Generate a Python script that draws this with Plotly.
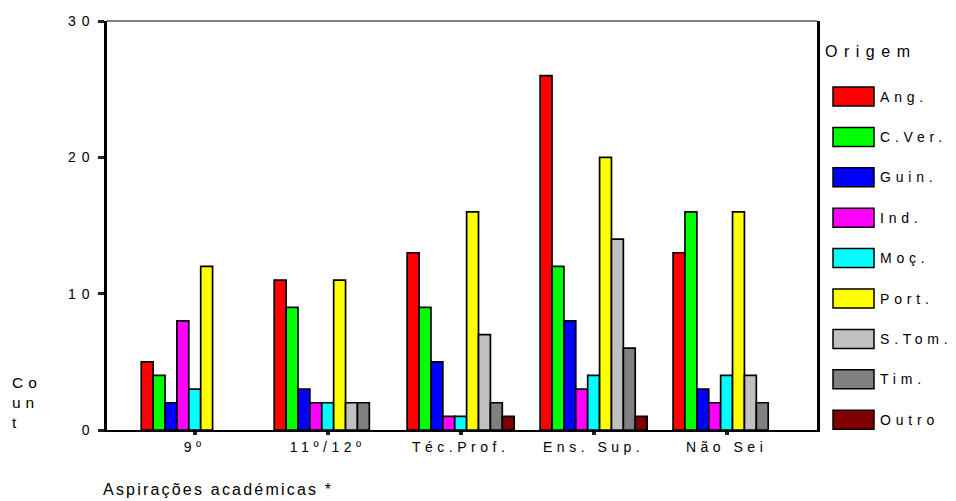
import json
import plotly.graph_objects as go

categories = ["9º", "11º/12º", "Téc.Prof.", "Ens. Sup.", "Não Sei"]
series_names = ["Ang.", "C.Ver.", "Guin.", "Ind.", "Moç.", "Port.", "S.Tom.", "Tim.", "Outro"]
series_colors = ["#FF0000", "#00FF00", "#0000FF", "#FF00FF", "#00FFFF",
                 "#FFFF00", "#C0C0C0", "#808080", "#7F0000"]
# counts per series, ordered as categories
ang = [5, 11, 13, 26, 13]
cver = [4, 9, 9, 12, 16]
guin = [2, 3, 5, 8, 3]
ind = [8, 2, 1, 3, 2]
moc = [3, 2, 1, 4, 4]
port = [12, 11, 16, 20, 16]
stom = [0, 2, 7, 14, 4]
tim = [0, 2, 2, 6, 2]
outro = [0, 0, 1, 1, 0]
series_values = [ang, cver, guin, ind, moc, port, stom, tim, outro]
y_ticks = [0, 10, 20, 30]

FONT = "Liberation Sans, Arial, sans-serif"

# plot-area pixel geometry (for legend placement in paper coords)
L, R, T, B = 107, 817, 21, 430
W, H = R - L, B - T


def px(x):
    return (x - L) / W


def py(y):
    return (B - y) / H


fig = go.Figure()
xpos = list(range(len(categories)))
for name, color, vals in zip(series_names, series_colors, series_values):
    fig.add_trace(go.Bar(
        x=xpos, y=[v if v else None for v in vals], name=name,
        marker=dict(color=color, line=dict(color="black", width=1.7)),
        showlegend=False, hoverinfo="skip",
    ))

shapes = []
annotations = []
ann_spacing = []
# top border (thin)
shapes.append(dict(type="line", xref="paper", yref="paper", x0=0, x1=1, y0=1, y1=1,
                   line=dict(color="black", width=1)))

# custom legend
annotations.append(dict(text="Origem", xref="paper", yref="paper", x=px(823), y=py(51),
                        xanchor="left", yanchor="middle", showarrow=False,
                        font=dict(family=FONT, size=16, color="black")))
ann_spacing.append(6.5)
for i, (name, color) in enumerate(zip(series_names, series_colors)):
    cy = 96.5 + 40.4 * i
    shapes.append(dict(type="rect", xref="paper", yref="paper",
                       x0=px(833), x1=px(874), y0=py(cy - 9.5), y1=py(cy + 9.5),
                       fillcolor=color, line=dict(color="black", width=1.5)))
    annotations.append(dict(text=name, xref="paper", yref="paper", x=px(878), y=py(cy),
                            xanchor="left", yanchor="middle", showarrow=False,
                            font=dict(family=FONT, size=14, color="black")))
    ann_spacing.append(4.8)

# y title "Count" (wrapped as in reference)
annotations.append(dict(text="Co<br>un<br>t", xref="paper", yref="paper", x=px(10), y=py(402),
                        xanchor="left", yanchor="middle", align="left", showarrow=False,
                        font=dict(family=FONT, size=15.5, color="black")))
ann_spacing.append(5)
# x title
annotations.append(dict(text="Aspirações académicas *", xref="paper", yref="paper",
                        x=px(101), y=py(489), xanchor="left", yanchor="middle",
                        showarrow=False, font=dict(family=FONT, size=16, color="black")))
ann_spacing.append(2.2)

fig.update_layout(
    width=956, height=501,
    margin=dict(l=L, r=956 - R, t=T, b=501 - B),
    paper_bgcolor="white", plot_bgcolor="white",
    barmode="group", bargap=0.195, bargroupgap=0,
    font=dict(family=FONT, color="black"),
    shapes=shapes, annotations=annotations,
    xaxis=dict(
        range=[-0.66, 4.68], tickmode="array", tickvals=xpos, ticktext=categories,
        showgrid=False, zeroline=False, showline=True, linecolor="black", linewidth=2,
        ticks="outside", ticklen=3, tickwidth=4, tickcolor="#222",
        tickfont=dict(family=FONT, size=14, color="black"),
    ),
    yaxis=dict(
        range=[0, 30], tickmode="array", tickvals=y_ticks,
        showgrid=False, zeroline=False, showline=True, linecolor="black", linewidth=2.5,
        mirror=True,
        ticks="outside", ticklen=6, tickwidth=3, tickcolor="#222",
        ticklabelstandoff=0,
        tickfont=dict(family=FONT, size=14, color="black"),
    ),
)

post = """
document.body.style.margin = '0';
document.body.style.padding = '0';
var gd = document.getElementById('{plot_id}');
var annLS = ANN_LS;
function applyLS(t, ls, mode){
  if (t.getAttribute('data-ls')) return;
  var b0 = t.getBBox();
  t.style.letterSpacing = ls + 'px';
  var b1 = t.getBBox();
  var dx = 0;
  if (mode === 'left') dx = b0.x - b1.x;
  else if (mode === 'right') dx = (b0.x + b0.width) - (b1.x + b1.width);
  else dx = (b0.x + b0.width / 2) - (b1.x + b1.width / 2);
  if (dx) {
    var tr = t.getAttribute('transform') || '';
    t.setAttribute('transform', tr + ' translate(' + dx + ',0)');
  }
  t.setAttribute('data-ls', '1');
}
function spacing(){
  gd.querySelectorAll('.xtick text').forEach(function(t){ applyLS(t, 4.5, 'center'); });
  gd.querySelectorAll('.ytick text').forEach(function(t){ applyLS(t, 6, 'right'); });
  gd.querySelectorAll('.annotation-text').forEach(function(t, i){
    applyLS(t, annLS[i] !== undefined ? annLS[i] : 4, 'left');
  });
}
spacing();
gd.on('plotly_afterplot', spacing);
""".replace("ANN_LS", json.dumps(ann_spacing))

fig.write_html("out.html", post_script=post, config={"displayModeBar": False})
